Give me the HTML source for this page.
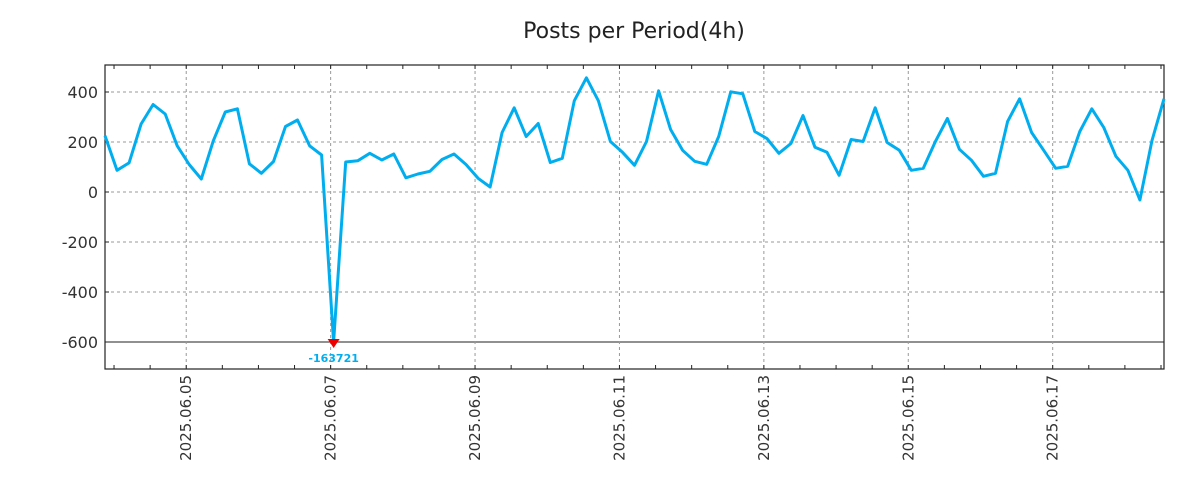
<!DOCTYPE html>
<html><head><meta charset="utf-8"><style>
html,body{margin:0;padding:0;background:#fff;}
svg{display:block;font-family:"DejaVu Sans","Liberation Sans",sans-serif;}
</style></head><body>
<svg id="chart" width="1200" height="500" viewBox="0 0 1200 500">
<text x="634" y="38" text-anchor="middle" font-size="22" fill="#222">Posts per Period(4h)</text>
<g id="grid"></g><g id="axes"></g><g id="series"></g>
</svg>
<script>
const values = [225,87,117,272,350,312,185,110,52,205,320,333,113,75,122,262,288,185,148,-163721,120,125,155,128,152,57,72,83,130,152,110,55,
20,238,337,222,274,118,135,365,457,365,202,159,107,202,405,250,167,123,111,222,401,393,242,214,155,194,306,179,159,
67,210,202,337,198,167,87,95,202,294,171,127,63,75,282,373,238,167,95,103,242,333,258,143,87,-32,206,373];
const yTicks = [400,200,0,-200,-400,-600];
const xTickLabels = ["2025.06.05","2025.06.07","2025.06.09","2025.06.11","2025.06.13","2025.06.15","2025.06.17"];
const xTickHours = [0,48,96,144,192,240,288];
const startHour = -27, stepHours = 4;
const minLabel = "-163721";

const NS="http://www.w3.org/2000/svg";
const L=105,R=1164,T=65,B=369;
const lastHour = startHour + stepHours*(values.length-1);
const xs = h => L + (h-startHour)/(lastHour-startHour)*(R-L);
const ys = v => 192 - v*(192-92)/400;
const yMinShown=-600;
function mk(tag,attrs,parent){const e=document.createElementNS(NS,tag);for(const k in attrs)e.setAttribute(k,attrs[k]);parent.appendChild(e);return e;}
const grid=document.getElementById('grid'),axes=document.getElementById('axes'),series=document.getElementById('series');
yTicks.forEach(v=>{
  const y=ys(v);
  if(v!==-600){const g=mk('line',{x1:L,x2:R,y1:y,y2:y,stroke:'#999','stroke-dasharray':'3,3','stroke-width':1},grid);
  
  }
  else {const g=mk('line',{x1:L,x2:R,y1:y,y2:y,stroke:'#222','stroke-width':1},grid);
  
  }
  mk('line',{x1:L,x2:L+4,y1:y,y2:y,stroke:'#222'},axes);
  mk('line',{x1:R-4,x2:R,y1:y,y2:y,stroke:'#222'},axes);
  const t=mk('text',{x:98,y:y+6,'text-anchor':'end','font-size':16,fill:'#333'},axes);
  t.textContent=String(v);
  
  
});
for(let h=-24;h<=lastHour;h+=12){
  const x=xs(h);
  mk('line',{x1:x,x2:x,y1:B,y2:B-4,stroke:'#222'},axes);
  mk('line',{x1:x,x2:x,y1:T,y2:T+4,stroke:'#222'},axes);
}
xTickHours.forEach((h,i)=>{
  const x=xs(h);
  const g=mk('line',{x1:x,x2:x,y1:T,y2:B,stroke:'#999','stroke-dasharray':'3,3'},grid);
  
  
  const t=mk('text',{x:0,y:0,'text-anchor':'end','font-size':15,fill:'#333',transform:`translate(${x+5},${B+6}) rotate(-90)`},axes);
  t.textContent=xTickLabels[i];
  
  
});
const frame=mk('rect',{x:L,y:T,width:R-L,height:B-T,fill:'none',stroke:'#222','stroke-width':1.2},axes);


let minI=0;values.forEach((v,i)=>{if(v<values[minI])minI=i;});
const pts=values.map((v,i)=>xs(startHour+i*stepHours).toFixed(1)+','+ys(Math.max(v,yMinShown)).toFixed(1)).join(' ');
const line=mk('polyline',{points:pts,fill:'none',stroke:'#00aeef','stroke-width':3,'stroke-linejoin':'round'},series);


const mx=xs(startHour+minI*stepHours),my=ys(Math.max(values[minI],yMinShown));
const m=mk('polygon',{points:`${mx-6},${my-3} ${mx+6},${my-3} ${mx},${my+6}`,fill:'#e00'},series);


const ml=mk('text',{x:mx,y:my+20,'text-anchor':'middle','font-size':11,'font-weight':'bold',fill:'#00aeef'},series);
ml.textContent=minLabel;


</script>
</body></html>
